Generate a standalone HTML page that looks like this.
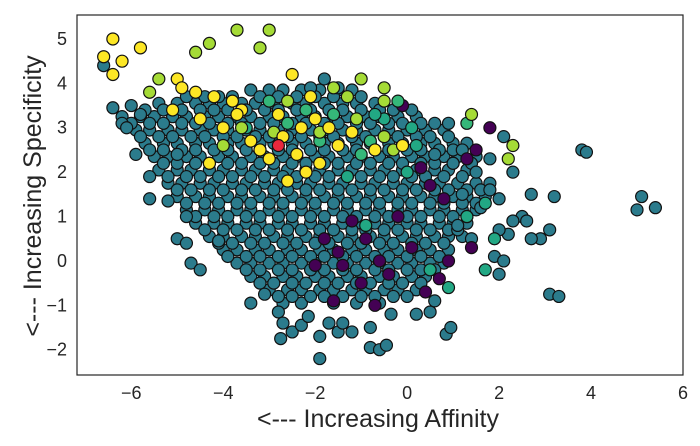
<!DOCTYPE html>
<html><head><meta charset="utf-8">
<style>
body{margin:0;background:#fff;}
svg{display:block;font-family:"Liberation Sans",sans-serif;}
</style></head>
<body>
<svg id="chart" width="700" height="446">
  <rect x="0" y="0" width="700" height="446" fill="#fff"/>
  <g id="points"></g>
  <rect x="77" y="15" width="606" height="360" fill="none" stroke="#262626" stroke-width="1.2"/>
  <g id="xticks"></g>
  <g id="yticks"></g>
  <text x="378" y="427" text-anchor="middle" font-size="25" fill="#262626">&lt;--- Increasing Affinity</text>
  <text transform="translate(41,196) rotate(-90)" text-anchor="middle" font-size="25" fill="#262626">&lt;--- Increasing Specificity</text>
</svg>
<script>
const xTicks=[-6,-4,-2,0,2,4,6];
const yTicks=[-2,-1,0,1,2,3,4,5];
const groupNames=["teal","purple","mint","green","yellowgreen","yellow","red"];
const groupColors=["#2b7b8c","#440154","#22a884","#35b779","#a5db36","#fde725","#e8283c"];
const blobRowsY=[3.85,3.55,3.25,2.95,2.65,2.35,2.05,1.75,1.45,1.15,0.85,0.55,0.25,-0.05,-0.35,-0.65,-0.95];
const blobRowsX=[
[-3.4,-3.0,-2.7,-2.3,-1.9,-1.5,-1.2],
[-5.4,-5.0,-4.6,-4.3,-4.0,-3.6,-3.3,-2.9,-2.5,-2.2,-1.8,-1.4,-1.1,-0.7],
[-6.2,-5.8,-5.5,-5.1,-4.8,-4.4,-4.1,-3.7,-3.4,-3.0,-2.7,-2.3,-2.0,-1.6,-1.3,-0.9,-0.6,-0.2,0.2],
[-5.9,-5.6,-5.2,-4.9,-4.5,-4.2,-3.9,-3.5,-3.2,-2.8,-2.5,-2.1,-1.8,-1.4,-1.1,-0.7,-0.4,0.0,0.4,0.8],
[-5.7,-5.3,-5.0,-4.6,-4.3,-3.9,-3.6,-3.2,-2.9,-2.5,-2.2,-1.8,-1.5,-1.1,-0.8,-0.4,-0.1,0.3,0.6,1.0,1.3],
[-5.5,-5.2,-4.8,-4.5,-4.1,-3.8,-3.4,-3.1,-2.7,-2.4,-2.0,-1.7,-1.3,-1.0,-0.6,-0.3,0.1,0.4,0.8,1.1,1.5],
[-5.4,-5.0,-4.7,-4.3,-4.0,-3.6,-3.3,-2.9,-2.6,-2.2,-1.9,-1.5,-1.2,-0.8,-0.5,-0.1,0.2,0.6,0.9,1.3],
[-5.2,-4.9,-4.5,-4.2,-3.8,-3.5,-3.1,-2.8,-2.4,-2.1,-1.7,-1.4,-1.0,-0.7,-0.3,0.0,0.4,0.7,1.1,1.5,1.8],
[-5.0,-4.6,-4.3,-3.9,-3.6,-3.2,-2.9,-2.5,-2.2,-1.8,-1.5,-1.1,-0.8,-0.4,-0.1,0.3,0.6,1.0,1.3,1.7],
[-4.8,-4.4,-4.1,-3.7,-3.4,-3.0,-2.7,-2.3,-2.0,-1.6,-1.3,-0.9,-0.6,-0.2,0.1,0.5,0.8,1.2,1.5],
[-4.6,-4.2,-3.9,-3.5,-3.2,-2.8,-2.5,-2.1,-1.8,-1.4,-1.1,-0.7,-0.4,0.0,0.3,0.7,1.0,1.3],
[-4.3,-4.0,-3.6,-3.3,-2.9,-2.6,-2.2,-1.9,-1.5,-1.2,-0.8,-0.5,-0.1,0.2,0.6,0.9,1.2],
[-4.0,-3.7,-3.3,-3.0,-2.6,-2.3,-1.9,-1.6,-1.2,-0.9,-0.5,-0.2,0.2,0.5,0.9],
[-3.7,-3.4,-3.0,-2.7,-2.3,-2.0,-1.6,-1.3,-0.9,-0.6,-0.2,0.1,0.5,0.8],
[-3.4,-3.1,-2.7,-2.4,-2.0,-1.7,-1.3,-1.0,-0.6,-0.3,0.1,0.4],
[-3.0,-2.6,-2.3,-1.9,-1.6,-1.2,-0.9,-0.5,-0.2,0.2],
[-2.7,-2.3,-1.6,-1.1,-0.6]];
const fillRowsY=[3.7,3.4,3.1,2.8,2.5,2.2,1.9,1.6,1.3,1.0,0.7,0.4,0.1,-0.2,-0.5,-0.8];
const fillRowsX=[
[-4.8,-4.4,-4.1,-3.8,-3.2,-2.8,-2.4,-2.0,-1.6,-1.0],
[-5.7,-5.3,-4.9,-4.5,-4.2,-3.9,-3.5,-3.1,-2.8,-2.4,-2.1,-1.7,-1.4,-1.0,-0.6,-0.3,0.1],
[-6.0,-5.6,-5.3,-4.9,-4.6,-4.3,-3.9,-3.6,-3.2,-2.9,-2.5,-2.2,-1.8,-1.5,-1.1,-0.8,-0.4,-0.1,0.3,0.6],
[-5.8,-5.4,-5.1,-4.7,-4.4,-4.0,-3.7,-3.3,-3.0,-2.6,-2.3,-1.9,-1.6,-1.2,-0.9,-0.5,-0.2,0.2,0.5,0.9],
[-5.6,-5.3,-4.9,-4.6,-4.2,-3.9,-3.5,-3.2,-2.8,-2.5,-2.1,-1.8,-1.4,-1.1,-0.7,-0.4,0.0,0.3,0.7,1.0],
[-5.3,-5.0,-4.6,-4.3,-3.9,-3.6,-3.2,-2.9,-2.5,-2.2,-1.8,-1.5,-1.1,-0.8,-0.4,-0.1,0.3,0.6,1.0,1.4],
[-5.2,-4.8,-4.5,-4.1,-3.8,-3.4,-3.1,-2.7,-2.4,-2.0,-1.7,-1.3,-1.0,-0.6,-0.3,0.1,0.4,0.8,1.2],
[-5.0,-4.7,-4.3,-4.0,-3.6,-3.3,-2.9,-2.6,-2.2,-1.9,-1.5,-1.2,-0.8,-0.5,-0.1,0.2,0.6,0.9,1.3,1.6],
[-4.8,-4.4,-4.1,-3.7,-3.4,-3.0,-2.7,-2.3,-2.0,-1.6,-1.3,-0.9,-0.6,-0.2,0.1,0.5,0.8,1.2,1.5],
[-4.6,-4.2,-3.9,-3.5,-3.2,-2.8,-2.5,-2.1,-1.8,-1.4,-1.1,-0.7,-0.4,0.0,0.3,0.7,1.0,1.3],
[-4.4,-4.0,-3.7,-3.3,-3.0,-2.6,-2.3,-1.9,-1.6,-1.2,-0.9,-0.5,-0.2,0.2,0.5,0.9,1.1],
[-4.1,-3.8,-3.4,-3.1,-2.7,-2.4,-2.0,-1.7,-1.3,-1.0,-0.6,-0.3,0.1,0.4,0.8],
[-3.9,-3.5,-3.2,-2.8,-2.5,-2.1,-1.8,-1.4,-1.1,-0.7,-0.4,0.0,0.3,0.7],
[-3.5,-3.2,-2.8,-2.5,-2.1,-1.8,-1.4,-1.1,-0.7,-0.4,0.0,0.3,0.6],
[-3.2,-2.9,-2.5,-2.2,-1.8,-1.5,-1.1,-0.8,-0.4,-0.1,0.3],
[-2.8,-2.5,-2.1,-1.8,-1.4,-1.0,-0.7,-0.3,0.0]];
const tealX=[-6.6,-6.4,-6.2,-6.0,-5.9,-5.6,-5.6,-5.2,-5.0,-4.8,-4.7,-4.5,-4.1,-3.4,-3.1,-2.8,-2.7,-2.75,-2.5,-2.3,-2.15,-1.9,-1.9,-1.7,-1.5,-1.4,-1.2,-0.8,-0.8,-0.6,-0.45,-0.35,0.2,0.5,0.85,0.95,0.6,3.1,3.3,5.0,5.1,5.4,3.8,3.9,3.2,3.1,2.9,2.7,2.5,2.3,2.2,2.0,1.9,2.0,2.1,1.6,1.8,1.5,1.2,1.1,1.4,1.0,1.2,0.9,0.6,1.8,2.3,2.1,2.0,2.7,2.6,-1.8,-2.1,-1.5,-5.8,-6.1,-4.8,-5.0];
const tealY=[4.4,3.45,3.1,3.5,2.4,1.9,1.4,1.35,0.5,0.4,-0.05,-0.2,0.45,-0.95,-0.75,-1.15,-1.4,-1.75,-1.6,-1.45,-1.25,-1.7,-2.2,-1.4,-1.6,-1.4,-1.6,-1.5,-1.95,-2.0,-1.9,-1.2,-1.2,-1.15,-1.65,-1.5,-0.9,-0.75,-0.8,1.15,1.45,1.2,2.5,2.45,1.45,0.7,0.5,0.5,1.0,0.9,0.6,0.7,0.1,-0.3,0.0,1.2,1.6,2.0,1.5,0.8,0.5,2.2,2.5,3.1,2.4,2.3,2.0,2.8,1.4,1.5,0.9,4.1,3.9,3.9,3.3,3.0,1.0,2.4];
const purpleX=[-0.1,1.8,1.5,1.4,-0.7,-1.6,0.4,-0.9,-1.2,-0.6,0.1,-1.8,-0.4,0.5,0.8,1.3,-2.0,-1.4,0.9,-1.0,-0.2,0.7,-1.5,0.3];
const purpleY=[3.5,3.0,2.5,0.3,-1.0,-0.9,-0.7,0.5,0.9,0.0,0.3,0.5,-0.3,1.7,1.4,2.3,-0.1,-0.1,0.0,-0.5,1.0,-0.4,0.2,2.1];
const mintX=[0.2,0.0,1.3,1.7,0.9,-0.5,0.5,-3.5,1.7,0.1,-0.7,1.9,-0.9,-1.3];
const mintY=[2.6,2.0,1.0,-0.2,-0.6,3.2,-0.2,3.0,1.3,3.0,3.3,0.5,0.8,1.9];
const greenX=[-0.2,-1.0,-1.6,-3.0,-1.9,-0.8,-2.6,1.3,-2.2];
const greenY=[3.6,2.4,3.3,3.6,2.7,2.7,3.1,3.1,3.4];
const ygX=[-4.3,-4.6,-3.7,-3.2,-3.0,-5.6,-5.4,-2.6,-1.6,-1.0,-1.3,-0.5,-0.5,-0.5,1.4,2.3,2.2,-1.9,-4.0,-3.6,-0.3,-2.9,-1.1];
const ygY=[4.9,4.7,5.2,4.8,5.2,3.8,4.1,3.6,3.9,4.1,3.7,3.9,3.6,2.8,3.3,2.6,2.3,2.9,2.6,3.0,2.5,2.9,3.2];
const yellowX=[-6.4,-6.6,-6.4,-5.8,-6.2,-5.0,-4.9,-4.6,-4.2,-3.6,-2.5,-2.1,-2.0,-2.3,-2.7,-3.2,-3.7,-4.5,-5.1,-1.7,-1.2,-0.7,-0.1,-2.2,-3.0,-4.3,-2.6,-3.8,-1.5,-3.4,-2.4,-1.9,-4.0,-2.8];
const yellowY=[5.0,4.6,4.2,4.8,4.5,4.1,3.9,3.8,3.7,3.4,4.2,3.7,3.2,3.0,2.8,2.5,3.3,3.2,3.4,3.0,2.9,2.5,2.6,2.0,2.3,2.2,1.8,3.6,2.6,2.7,2.4,2.2,3.0,3.3];
const redX=[-2.8];
const redY=[2.6];
const groupXs=[tealX,purpleX,mintX,greenX,ygX,yellowX,redX];
const groupYs=[tealY,purpleY,mintY,greenY,ygY,yellowY,redY];

const X0=77,X1=683,Y0=15,Y1=375;
const xMin=-7.18,xMax=6.0,yMin=-2.57,yMax=5.54;
function sx(v){return X0+(v-xMin)/(xMax-xMin)*(X1-X0);}
function sy(v){return Y1-(v-yMin)/(yMax-yMin)*(Y1-Y0);}
const NS="http://www.w3.org/2000/svg";
const pg=document.getElementById('points');
function dot(xv,yv,color,name){
  const c=document.createElementNS(NS,'circle');
  c.setAttribute('cx',sx(xv));c.setAttribute('cy',sy(yv));c.setAttribute('r',6);
  c.setAttribute('fill',color);c.setAttribute('stroke','#111');c.setAttribute('stroke-width','1.2');
  
  
  pg.appendChild(c);
}
blobRowsY.forEach((yv,r)=>{
  blobRowsX[r].forEach(xv=>dot(xv,yv,groupColors[0],'point-teal'));
});
fillRowsY.forEach((yv,r)=>{
  fillRowsX[r].forEach(xv=>dot(xv,yv,groupColors[0],'point-teal'));
});
groupXs.forEach((xs,g)=>{
  const ys=groupYs[g];
  xs.forEach((xv,i)=>dot(xv,ys[i],groupColors[g],'point-'+groupNames[g]));
});
const xg=document.getElementById('xticks');
xTicks.forEach(t=>{
  const tx=document.createElementNS(NS,'text');
  tx.setAttribute('x',sx(t));tx.setAttribute('y',399);tx.setAttribute('text-anchor','middle');
  tx.setAttribute('font-size','18');tx.setAttribute('fill','#262626');
  tx.textContent=(t<0?'\u2212'+Math.abs(t):String(t));
  
  
  xg.appendChild(tx);
});
const yg=document.getElementById('yticks');
yTicks.forEach(t=>{
  const tx=document.createElementNS(NS,'text');
  tx.setAttribute('x',67);tx.setAttribute('y',sy(t)+6);tx.setAttribute('text-anchor','end');
  tx.setAttribute('font-size','18');tx.setAttribute('fill','#262626');
  tx.textContent=(t<0?'\u2212'+Math.abs(t):String(t));
  
  
  yg.appendChild(tx);
});
</script>
</body></html>
